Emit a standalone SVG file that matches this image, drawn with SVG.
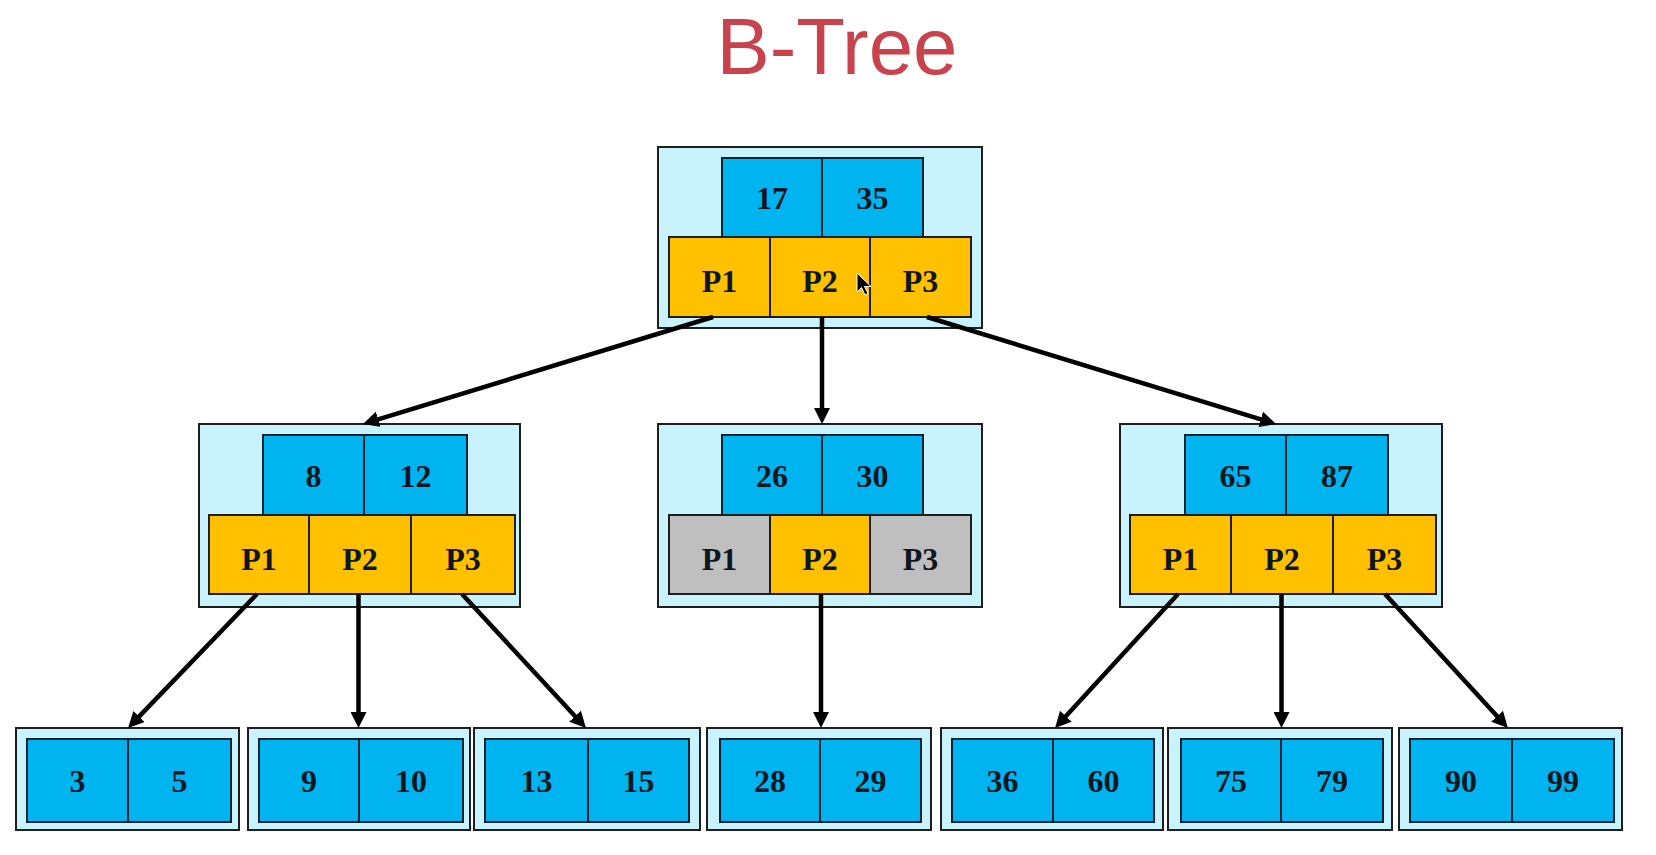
<svg xmlns="http://www.w3.org/2000/svg" width="1656" height="855" viewBox="0 0 1656 855">
<defs>
<style>
.outer{fill:#c8f3fd;stroke:#1e1e1e;stroke-width:2}
.key{fill:#00b4f0;stroke:#0b2233;stroke-width:2}
.ptr{fill:#ffc000;stroke:#1e1e1e;stroke-width:2}
.gray{fill:#bfbfbf;stroke:#1e1e1e;stroke-width:2}
.t{font-family:"Liberation Serif","Times New Roman",serif;font-weight:bold;font-size:32px;text-anchor:middle;fill:#0e1620}
.title{font-family:"Liberation Sans",Arial,sans-serif;font-size:80px;text-anchor:middle;fill:#c9434c}
.conn line{stroke:#000;stroke-width:4.5;marker-end:url(#ah)}
</style>
<marker id="ah" viewBox="0 0 10 10" refX="6" refY="5" markerWidth="16" markerHeight="16" markerUnits="userSpaceOnUse" orient="auto">
<path d="M0,0 L10,5 L0,10 z" fill="#000"/>
</marker>
</defs>
<rect width="1656" height="855" fill="#fff"/>
<text class="title" x="837" y="74" textLength="241" lengthAdjust="spacingAndGlyphs">B-Tree</text>

<g id="root">
<rect class="outer" x="658" y="147" width="324" height="181"/>
<rect class="key" x="722" y="158" width="100" height="79"/>
<rect class="key" x="822" y="158" width="101" height="79"/>
<rect class="ptr" x="669" y="237" width="101" height="80"/>
<rect class="ptr" x="770" y="237" width="100" height="80"/>
<rect class="ptr" x="870" y="237" width="101" height="80"/>
<text class="t" x="772" y="209">17</text>
<text class="t" x="872.5" y="209">35</text>
<text class="t" x="719.5" y="292">P1</text>
<text class="t" x="820" y="292">P2</text>
<text class="t" x="920.5" y="292">P3</text>
</g>

<g id="nodeLeft">
<rect class="outer" x="199" y="424" width="321" height="183"/>
<rect class="key" x="263" y="435" width="101" height="80"/>
<rect class="key" x="364" y="435" width="103" height="80"/>
<rect class="ptr" x="209" y="515" width="100" height="79"/>
<rect class="ptr" x="309" y="515" width="102" height="79"/>
<rect class="ptr" x="411" y="515" width="104" height="79"/>
<text class="t" x="313.5" y="487">8</text>
<text class="t" x="415.5" y="487">12</text>
<text class="t" x="259" y="570">P1</text>
<text class="t" x="360" y="570">P2</text>
<text class="t" x="463" y="570">P3</text>
</g>

<g id="nodeCenter">
<rect class="outer" x="658" y="424" width="324" height="183"/>
<rect class="key" x="722" y="435" width="100" height="80"/>
<rect class="key" x="822" y="435" width="101" height="80"/>
<rect class="gray" x="669" y="515" width="101" height="79"/>
<rect class="ptr" x="770" y="515" width="100" height="79"/>
<rect class="gray" x="870" y="515" width="101" height="79"/>
<text class="t" x="772" y="487">26</text>
<text class="t" x="872.5" y="487">30</text>
<text class="t" x="719.5" y="570">P1</text>
<text class="t" x="820" y="570">P2</text>
<text class="t" x="920.5" y="570">P3</text>
</g>

<g id="nodeRight">
<rect class="outer" x="1120" y="424" width="322" height="183"/>
<rect class="key" x="1185" y="435" width="101" height="80"/>
<rect class="key" x="1286" y="435" width="102" height="80"/>
<rect class="ptr" x="1130" y="515" width="101" height="79"/>
<rect class="ptr" x="1231" y="515" width="102" height="79"/>
<rect class="ptr" x="1333" y="515" width="103" height="79"/>
<text class="t" x="1235.5" y="487">65</text>
<text class="t" x="1337" y="487">87</text>
<text class="t" x="1180.5" y="570">P1</text>
<text class="t" x="1282" y="570">P2</text>
<text class="t" x="1384.5" y="570">P3</text>
</g>

<g id="leaf1">
<rect class="outer" x="16" y="728" width="223" height="102"/>
<rect class="key" x="27" y="739" width="101" height="83"/>
<rect class="key" x="128" y="739" width="103" height="83"/>
<text class="t" x="77.5" y="792">3</text>
<text class="t" x="179.5" y="792">5</text>
</g>
<g id="leaf2">
<rect class="outer" x="248" y="728" width="222" height="102"/>
<rect class="key" x="259" y="739" width="100" height="83"/>
<rect class="key" x="359" y="739" width="104" height="83"/>
<text class="t" x="309" y="792">9</text>
<text class="t" x="411" y="792">10</text>
</g>
<g id="leaf3">
<rect class="outer" x="474" y="728" width="226" height="102"/>
<rect class="key" x="485" y="739" width="103" height="83"/>
<rect class="key" x="588" y="739" width="101" height="83"/>
<text class="t" x="536.5" y="792">13</text>
<text class="t" x="638.5" y="792">15</text>
</g>
<g id="leaf4">
<rect class="outer" x="707" y="728" width="224" height="102"/>
<rect class="key" x="720" y="739" width="100" height="83"/>
<rect class="key" x="820" y="739" width="101" height="83"/>
<text class="t" x="770" y="792">28</text>
<text class="t" x="870.5" y="792">29</text>
</g>
<g id="leaf5">
<rect class="outer" x="941" y="728" width="222" height="102"/>
<rect class="key" x="952" y="739" width="101" height="83"/>
<rect class="key" x="1053" y="739" width="101" height="83"/>
<text class="t" x="1002.5" y="792">36</text>
<text class="t" x="1103.5" y="792">60</text>
</g>
<g id="leaf6">
<rect class="outer" x="1168" y="728" width="224" height="102"/>
<rect class="key" x="1181" y="739" width="100" height="83"/>
<rect class="key" x="1281" y="739" width="102" height="83"/>
<text class="t" x="1231" y="792">75</text>
<text class="t" x="1332" y="792">79</text>
</g>
<g id="leaf7">
<rect class="outer" x="1399" y="728" width="223" height="102"/>
<rect class="key" x="1410" y="739" width="102" height="83"/>
<rect class="key" x="1512" y="739" width="102" height="83"/>
<text class="t" x="1461" y="792">90</text>
<text class="t" x="1563" y="792">99</text>
</g>

<g id="connectors" class="conn">
<line x1="713" y1="317" x2="369.1" y2="422.1"/>
<line x1="822" y1="317" x2="822" y2="417.6"/>
<line x1="927" y1="317" x2="1269.9" y2="422.1"/>
<line x1="257" y1="594" x2="132.5" y2="723.4"/>
<line x1="358.5" y1="594" x2="358.5" y2="721.6"/>
<line x1="462" y1="594" x2="581.6" y2="723.3"/>
<line x1="821" y1="594" x2="821" y2="721.6"/>
<line x1="1178" y1="594" x2="1059.4" y2="723.3"/>
<line x1="1281.5" y1="594" x2="1281.5" y2="721.6"/>
<line x1="1385" y1="594" x2="1503.6" y2="723.3"/>
</g>

<polygon points="857,273 857,292 861.5,287.5 865,295 868,293.5 864.5,286.5 871,286.5" fill="#000" stroke="#fff" stroke-width="1"/>
</svg>
